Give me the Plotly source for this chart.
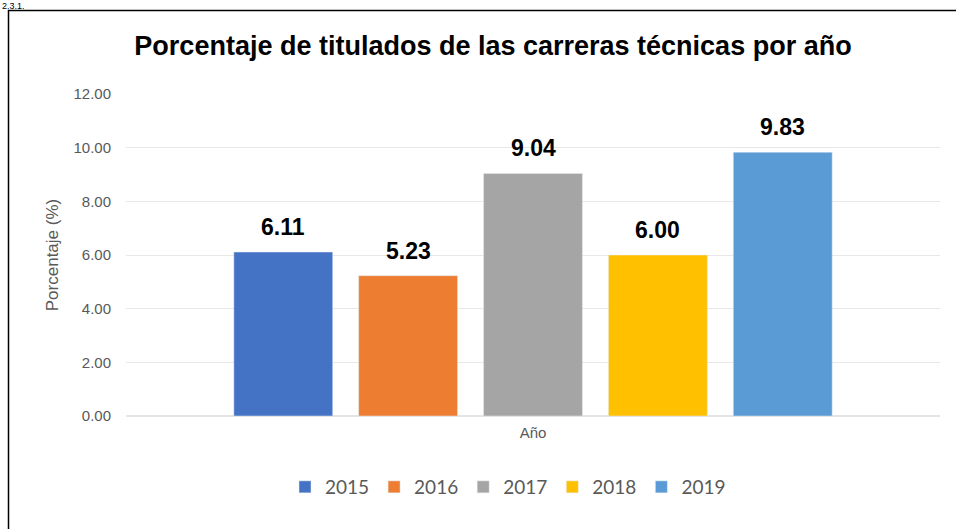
import plotly.graph_objects as go

years = ["2015", "2016", "2017", "2018", "2019"]
values = [6.11, 5.23, 9.04, 6.00, 9.83]
colors = ["#4472C4", "#ED7D31", "#A5A5A5", "#FFC000", "#5B9BD5"]
category = ["Año"]
y_ticks = [0, 2, 4, 6, 8, 10, 12]

W, H = 956, 529
L, R, T, B = 126, 16, 94, 113
pw, ph = W - L - R, H - T - B
BARGAP, BARGROUPGAP = 0.233, 0.208

def px_x(p):
    return (p - L) / pw

def px_y(p):
    return (H - B - p) / ph

fig = go.Figure()
for yr, v, c in zip(years, values, colors):
    fig.add_trace(go.Bar(x=category, y=[v], name=yr, marker_color=c,
                         hoverinfo="name+y"))

# value labels above each bar (bar centres follow the group layout)
slot = (1 - BARGAP) / len(years)
for i, v in enumerate(values):
    fig.add_annotation(x=(i - (len(years) - 1) / 2) * slot, y=v, xref="x", yref="y",
                       text=f"<b>{v:.2f}</b>", showarrow=False,
                       xanchor="center", yanchor="bottom", yshift=10,
                       font=dict(family="Liberation Sans", size=23, color="#000000"))

fig.update_layout(
    width=W, height=H,
    margin=dict(l=L, r=R, t=T, b=B, pad=0),
    paper_bgcolor="white", plot_bgcolor="white",
    barmode="group", bargap=BARGAP, bargroupgap=BARGROUPGAP,
    title=dict(text="<b>Porcentaje de titulados de las carreras técnicas por año</b>",
               x=px_x(493), xref="paper", xanchor="center",
               y=1 - 46 / H, yanchor="middle",
               font=dict(family="Liberation Sans", size=27, color="#000000")),
    font=dict(family="Liberation Sans", color="#595959"),
    legend=dict(orientation="h", x=px_x(508), xanchor="center",
                y=px_y(487), yanchor="middle",
                font=dict(family="Lato", size=19, color="#595959"),
                itemwidth=30, tracegroupgap=0),
    showlegend=True,
)
fig.update_xaxes(showgrid=False, showline=False, ticks="", ticklabelstandoff=6,
                 tickfont=dict(family="Liberation Sans", size=15, color="#595959"))
fig.update_yaxes(range=[0, 12], tickvals=y_ticks,
                 ticktext=[f"{t:.2f}" for t in y_ticks],
                 showgrid=True, gridcolor="#e8e8e8", gridwidth=1,
                 zeroline=True, zerolinecolor="#e4e4e4", zerolinewidth=2,
                 showline=False, ticks="", ticklabelstandoff=14,
                 tickfont=dict(family="Liberation Sans", size=15, color="#595959"),
                 title=dict(text="Porcentaje (%)", standoff=10,
                            font=dict(family="Liberation Sans", size=17, color="#595959")))

# outer frame of the chart box
fig.add_shape(type="rect", xref="paper", yref="paper",
              x0=px_x(8.5), x1=px_x(970), y0=px_y(10.5), y1=px_y(540),
              line=dict(color="#000000", width=1.5), fillcolor="rgba(0,0,0,0)")
# section number above the box
fig.add_annotation(text="2.3.1.", xref="paper", yref="paper",
                   x=px_x(1), y=px_y(0), xanchor="left", yanchor="top",
                   showarrow=False, borderpad=0,
                   font=dict(family="Liberation Sans", size=9, color="#000000"))

fig.write_html("out.html", post_script="document.body.style.margin='0';",
               config={"displayModeBar": False})
